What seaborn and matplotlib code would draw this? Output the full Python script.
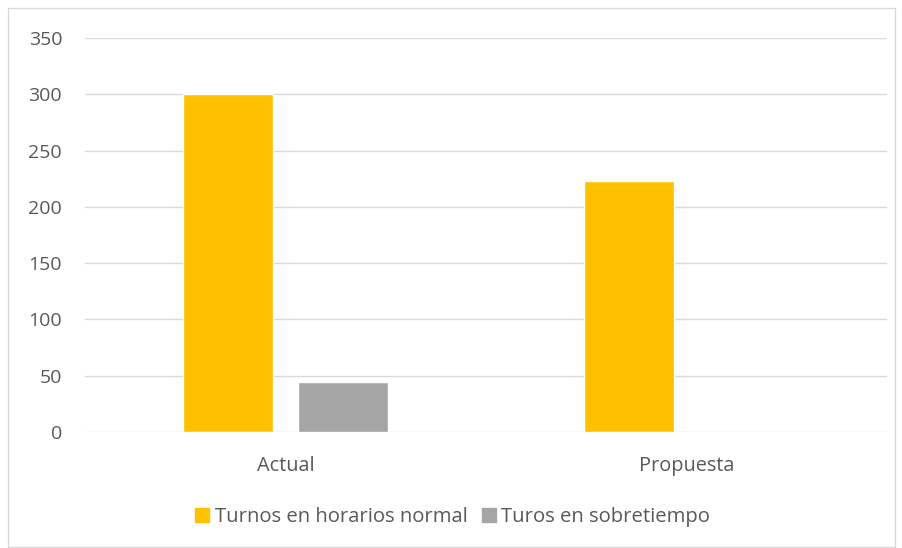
import matplotlib
matplotlib.use("Agg")
import matplotlib.pyplot as plt
import seaborn as sns
import pandas as pd
from matplotlib.patches import Rectangle
from matplotlib.lines import Line2D

categories = ["Actual", "Propuesta"]
series_names = ["Turnos en horarios normal", "Turos en sobretiempo"]
normal_values = [300, 223]
overtime_values = [44, 0]
y_ticks = [0, 50, 100, 150, 200, 250, 300, 350]

colors = ["#FFC000", "#A5A5A5"]
text_color = "#595959"
grid_color = "#D9D9D9"

df = pd.DataFrame({
    "cat": categories * 2,
    "serie": [series_names[0]] * 2 + [series_names[1]] * 2,
    "val": normal_values + overtime_values,
})

sns.set_theme(style="white")
plt.rcParams["font.family"] = ["Open Sans", "DejaVu Sans"]

fig = plt.figure(figsize=(9.03, 5.48), dpi=100)
ax = fig.add_axes([85 / 903, 1 - 432 / 548, (887 - 85) / 903, (432 - 38) / 548])

sns.barplot(data=df, x="cat", y="val", hue="serie", palette=colors,
            width=0.574, gap=0.217, ax=ax, legend=False, saturation=1)

ax.set_ylim(0, 350)
ax.set_xlim(-0.5, 1.5)
ax.set_yticks(y_ticks)
ax.set_yticklabels([str(t) for t in y_ticks])
ax.grid(axis="y", color=grid_color, linewidth=1)
ax.set_axisbelow(True)
for s in ax.spines.values():
    s.set_visible(False)
ax.set_xlabel("")
ax.set_ylabel("")
ax.tick_params(axis="y", length=0, pad=16.5, labelsize=14, labelcolor=text_color)
ax.tick_params(axis="x", length=0, pad=17, labelsize=14.3, labelcolor=text_color)

handles = [Line2D([0], [0], marker="s", linestyle="none", markersize=10,
                  markerfacecolor=c, markeredgecolor=c) for c in colors]
fig.legend(handles, series_names, loc="center", bbox_to_anchor=(0.5, 1 - 517 / 548),
           ncol=2, frameon=False, fontsize=14.6, labelcolor=text_color,
           handletextpad=0.15, columnspacing=0.6, handlelength=0.9)

fig.patches.append(Rectangle((8 / 903, 1 / 548), (895 - 8) / 903, (540 - 1) / 548,
                             transform=fig.transFigure, fill=False,
                             edgecolor=grid_color, linewidth=1))

fig.savefig("out.png", dpi=100, facecolor="white")
